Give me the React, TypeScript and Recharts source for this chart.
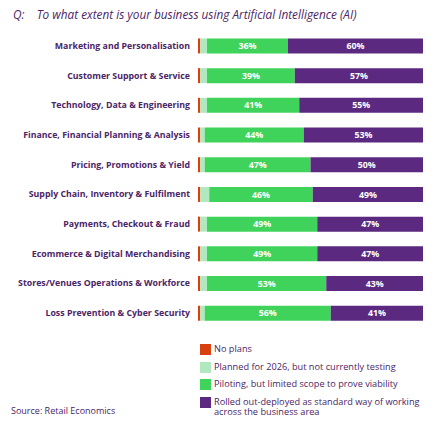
import React from 'react'
import { BarChart, Bar, XAxis, YAxis, LabelList } from 'recharts'

const categories = [
  'Marketing and Personalisation',
  'Customer Support & Service',
  'Technology, Data & Engineering',
  'Finance, Financial Planning & Analysis',
  'Pricing, Promotions & Yield',
  'Supply Chain, Inventory & Fulfilment',
  'Payments, Checkout & Fraud',
  'Ecommerce & Digital Merchandising',
  'Stores/Venues Operations & Workforce',
  'Loss Prevention & Cyber Security',
]
const noPlans = [1, 1, 1, 1, 1, 1, 1, 1, 1, 1]
const planned = [3, 3, 3, 2, 2, 4, 3, 3, 3, 2]
const piloting = [36, 39, 41, 44, 47, 46, 49, 49, 53, 56]
const rolledOut = [60, 57, 55, 53, 50, 49, 47, 47, 43, 41]

const legendItems = [
  { label: 'No plans', color: '#d8410e' },
  { label: 'Planned for 2026, but not currently testing', color: '#b2e8bf' },
  { label: 'Piloting, but limited scope to prove viability', color: '#3fd35b' },
  { label: 'Rolled out-deployed as standard way of working\nacross the business area', color: '#5b2a80' },
]

const data = categories.map((name, i) => ({
  name,
  noPlans: noPlans[i],
  planned: planned[i],
  piloting: piloting[i],
  rolledOut: rolledOut[i],
}))

const TEXT = '#4b2566'
const FONT = '"Open Sans", Lato, sans-serif'

const CategoryTick = ({ x, y, payload }: any) => (
  <text x={x} y={y} dy={3} textAnchor="end" fontSize={8.8} fontWeight={700} fill={TEXT} fontFamily={FONT}>
    {payload.value}
  </text>
)

const pct = (v: any) => `${v}%`

export default function App() {
  return (
    <div style={{ position: 'absolute', left: 0, top: 0, width: 439, height: 433, background: '#fff', fontFamily: FONT }}>
      <div style={{ position: 'absolute', left: 13, top: 6, fontSize: 11.8, fontStyle: 'italic', color: TEXT, whiteSpace: 'pre' }}>
        {'Q:    To what extent is your business using Artificial Intelligence (AI)'}
      </div>
      <BarChart
        width={439}
        height={433}
        data={data}
        layout="vertical"
        barCategoryGap="25%"
        margin={{ top: 31, right: 16, bottom: 105, left: 0 }}
      >
        <XAxis type="number" hide domain={[0, 100]} />
        <YAxis
          type="category"
          dataKey="name"
          width={198}
          tickLine={false}
          axisLine={false}
          tick={<CategoryTick />}
          interval={0}
        />
        <Bar dataKey="noPlans" stackId="a" fill="#d8410e" isAnimationActive={false} />
        <Bar dataKey="planned" stackId="a" fill="#b2e8bf" isAnimationActive={false} />
        <Bar dataKey="piloting" stackId="a" fill="#3fd35b" isAnimationActive={false}>
          <LabelList dataKey="piloting" position="center" formatter={pct} fill="#fff" fontSize={8.8} fontWeight={700} fontFamily={FONT} />
        </Bar>
        <Bar dataKey="rolledOut" stackId="a" fill="#5b2a80" isAnimationActive={false}>
          <LabelList dataKey="rolledOut" position="center" formatter={pct} fill="#fff" fontSize={8.8} fontWeight={700} fontFamily={FONT} />
        </Bar>
      </BarChart>
      <div style={{ position: 'absolute', left: 200, top: 344, width: 235, fontSize: 9.2, color: TEXT }}>
        {legendItems.map((it) => (
          <div key={it.label} style={{ display: 'flex', alignItems: 'flex-start', height: 17.6 }}>
            <span style={{ width: 11, height: 11, background: it.color, flexShrink: 0, marginRight: 3 }} />
            <span style={{ whiteSpace: 'pre', lineHeight: '10.5px', marginTop: 0 }}>{it.label}</span>
          </div>
        ))}
      </div>
      <div style={{ position: 'absolute', left: 11, top: 404, fontSize: 9, color: TEXT }}>Source: Retail Economics</div>
    </div>
  )
}
